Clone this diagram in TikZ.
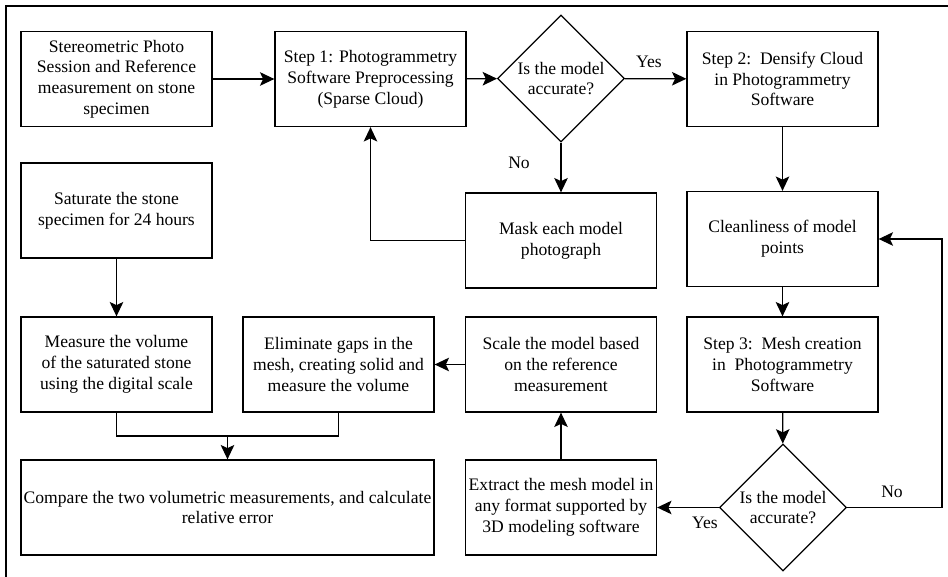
\documentclass[tikz,border=0pt]{standalone}
\usepackage{fontspec}
\setmainfont{Liberation Serif}
\newfontfamily\boxfont{Liberation Serif}
\usetikzlibrary{arrows.meta, positioning, shapes.geometric}

\tikzset{
  stepbox/.style={draw, line width=0.9pt, minimum width=4.775cm, minimum height=2.375cm,
    align=center, inner sep=1pt, font=\boxfont\fontsize{12.5}{14.8}\selectfont},
  testbox/.style={draw, diamond, line width=0.9pt, minimum width=3.175cm, minimum height=3.175cm,
    align=center, inner sep=0pt, font=\boxfont\fontsize{12.5}{14.8}\selectfont},
  flow/.style={line width=0.9pt, -{Stealth[length=3.6mm, width=3.4mm, inset=0.8mm]}},
  link/.style={line width=0.9pt},
  answer/.style={font=\boxfont\fontsize{12.5}{14.8}\selectfont}
}

\begin{document}
\begin{tikzpicture}[x=0.025cm, y=-0.025cm]
  \useasboundingbox (0,0) rectangle (948,577);
  % === cadre ===
  \draw[line width=1.2pt] (948,6) -- (6,6) -- (6,577);

  % === ligne du haut ===
  \node[stepbox] (photo) at (116.5,79) {Stereometric Photo\\Session and Reference\\measurement on stone\\specimen};
  \node[stepbox] (sparse) at (370.5,79) {Step 1: Photogrammetry\\Software Preprocessing\\(Sparse Cloud)};
  \node[testbox] (check1) at (561,78.5) {Is the model\\accurate?};
  \node[stepbox] (dense) at (782.5,79) {Step 2:\ \ Densify Cloud\\in Photogrammetry\\Software};

  % === deuxieme ligne ===
  \node[stepbox] (saturate) at (116.5,210.5) {Saturate the stone\\specimen for 24 hours};
  \node[stepbox] (mask) at (561,240.5) {Mask each model\\photograph};
  \node[stepbox] (clean) at (782.5,239) {Cleanliness of model\\points};

  % === troisieme ligne ===
  \node[stepbox] (measure) at (116.5,364.5) {Measure the volume\\of the saturated stone\\using the digital scale};
  \node[stepbox] (gaps) at (338.5,364.5) {Eliminate gaps in the\\mesh, creating solid and\\measure the volume};
  \node[stepbox] (scale) at (561,364.5) {Scale the model based\\on the reference\\measurement};
  \node[stepbox] (mesh) at (782.5,364.5) {Step 3:\ \ Mesh creation\\in\ \ Photogrammetry\\Software};

  % === ligne du bas ===
  \node[stepbox, minimum width=10.325cm] (compare) at (227.5,507.5) {Compare the two volumetric measurements, and calculate\\relative error};
  \node[stepbox] (extract) at (561,507.5) {Extract the mesh model in\\any format supported by\\3D modeling software};
  \node[testbox] (check2) at (783,507.5) {Is the model\\accurate?};

  % === fleches ===
  \draw[flow] (photo) -- (sparse);
  \draw[flow] (sparse) -- (check1);
  \draw[flow] (check1) -- (dense);
  \node[answer] (yes1) at (649,62) {Yes};
  \draw[flow] (check1) -- (mask);
  \node[answer] (no1) at (519,163) {No};
  \draw[flow] (mask.west) -| (sparse.south);
  \draw[flow] (dense) -- (clean);
  \draw[flow] (clean) -- (mesh);
  \draw[flow] (mesh) -- (check2);

  % retour vers le nettoyage
  \coordinate (loop) at (942,507.5);
  \draw[flow] (check2.east) -- (loop) |- (clean.east);
  \node[answer] (no2) at (892,492) {No};

  \draw[flow] (check2.west) -- (extract.east);
  \node[answer] (yes2) at (705,523) {Yes};
  \draw[flow] (extract) -- (scale);
  \draw[flow] (scale) -- (gaps);
  \draw[flow] (saturate) -- (measure);

  % jonction des deux volumes
  \coordinate (merge) at (227.5,436);
  \draw[link] (measure.south) |- (merge) -| (gaps.south);
  \draw[flow] (merge) -- (compare.north);
\end{tikzpicture}
\end{document}
